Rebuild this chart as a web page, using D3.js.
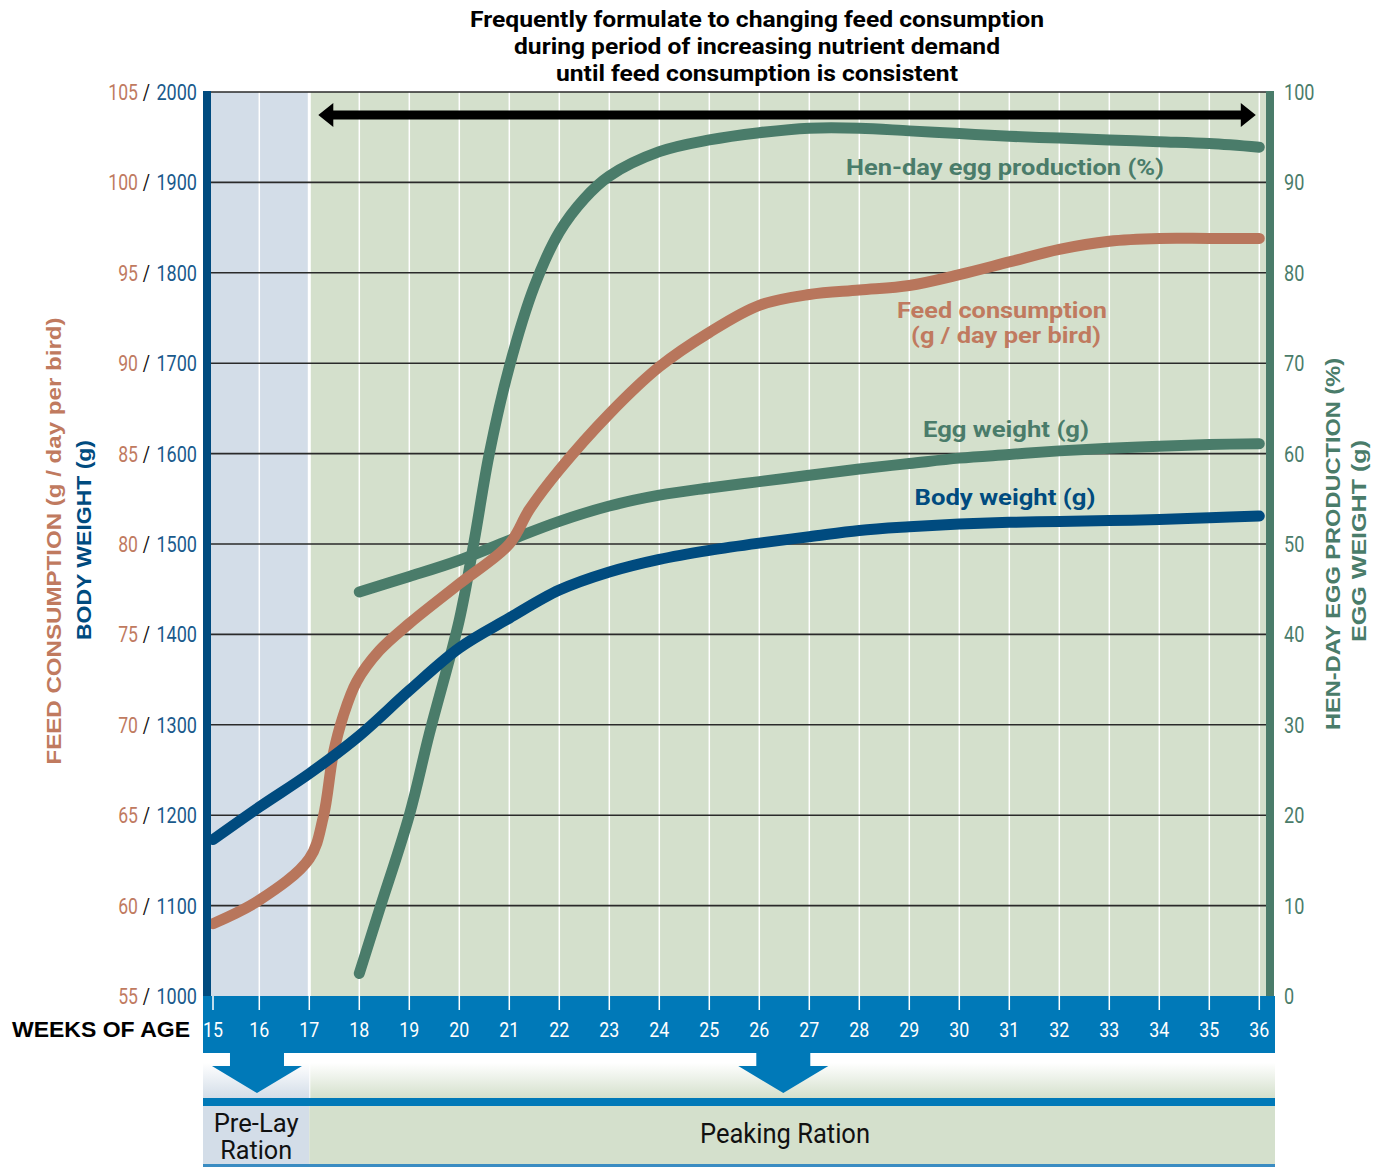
<!DOCTYPE html>
<html>
<head>
<meta charset="utf-8">
<script src="https://d3js.org/d3.v7.min.js"></script>
<style>
  body { margin: 0; background: #fff; }
  svg { display: block; font-family: Roboto, "Liberation Sans", sans-serif; }
</style>
</head>
<body>
<script>
  // data
  var weeks = d3.range(15, 37);

  var feedWeeks  = [15, 16, 17, 17.28, 17.48, 17.68, 17.95, 18.4, 19, 20, 21, 21.4, 22, 23, 24, 25, 26, 27, 28, 29, 30, 31, 32, 33, 34, 35, 36];
  var feedValues = [59.0, 60.3, 62.6, 64.9, 68.4, 70.5, 72.4, 74.1, 75.6, 77.8, 80.0, 81.9, 84.1, 87.2, 89.8, 91.7, 93.2, 93.8, 94.05, 94.3, 94.9, 95.6, 96.3, 96.75, 96.9, 96.9, 96.9];

  var bodyWeeks  = [15, 16, 17, 18, 19, 20, 21, 22, 23, 24, 25, 26, 27, 28, 29, 30, 31, 32, 33, 34, 35, 36];
  var bodyValues = [1173, 1209, 1246, 1288, 1338, 1385, 1418, 1449, 1469, 1483, 1493, 1501, 1508, 1515, 1519, 1522, 1524, 1525, 1526, 1527, 1529, 1531];

  var eggProdWeeks  = [18, 18.4, 19, 19.4, 20, 20.3, 20.6, 21, 21.5, 22, 22.5, 23, 24, 25, 26, 27, 28, 29, 30, 31, 32, 33, 34, 35, 36];
  var eggProdValues = [2.5, 9.5, 20, 29, 41.6, 50.4, 60, 69.6, 78.5, 84.5, 88.2, 90.7, 93.4, 94.7, 95.5, 96.0, 96.0, 95.7, 95.4, 95.1, 94.9, 94.7, 94.5, 94.3, 93.9];

  var eggWtWeeks  = [18, 19, 20, 21, 22, 23, 24, 25, 26, 27, 28, 29, 30, 31, 32, 33, 34, 35, 36];
  var eggWtValues = [44.7, 46.4, 48.2, 50.4, 52.5, 54.2, 55.4, 56.2, 56.9, 57.6, 58.3, 58.9, 59.5, 59.9, 60.3, 60.6, 60.8, 61.0, 61.1];

  var feedTicks = [55, 60, 65, 70, 75, 80, 85, 90, 95, 100, 105];
  var bodyTicks = [1000, 1100, 1200, 1300, 1400, 1500, 1600, 1700, 1800, 1900, 2000];
  var rightTicks = [0, 10, 20, 30, 40, 50, 60, 70, 80, 90, 100];

  var titleLines = ['Frequently formulate to changing feed consumption',
                    'during period of increasing nutrient demand',
                    'until feed consumption is consistent'];

  // colours
  var brown = '#b8765c', brownText = '#c07a5f', navy = '#004b7f', green = '#4a7c6a';
  var band = '#0079b8', bgGreen = '#d4e0cc', bgBlue = '#d3dde8';

  var width = 1386, height = 1167;
  var plotTop = 92, plotBottom = 996, plotLeft = 211, plotRight = 1266;

  var svg = d3.select('body').append('svg')
    .attr('width', width).attr('height', height);

  // scales (week 15 is squeezed against the axis)
  var x = d3.scaleLinear().domain([15, 16, 36]).range([213, 259.3, 1259.3]);
  var yBody = d3.scaleLinear().domain([1000, 2000]).range([plotBottom, plotTop]);
  var yFeed = d3.scaleLinear().domain([55, 105]).range([plotBottom, plotTop]);
  var yRight = d3.scaleLinear().domain([0, 100]).range([plotBottom, plotTop]);

  function fit(sel, w) {
    sel.attr('textLength', w).attr('lengthAdjust', 'spacingAndGlyphs');
  }
  function condense(sel, k) {
    sel.each(function() {
      var w = this.getComputedTextLength();
      d3.select(this).attr('textLength', w * k).attr('lengthAdjust', 'spacingAndGlyphs');
    });
  }

  var defs = svg.append('defs');
  function grad(id, c) {
    var g = defs.append('linearGradient').attr('id', id)
      .attr('x1', 0).attr('y1', 0).attr('x2', 0).attr('y2', 1);
    g.append('stop').attr('offset', '0%').attr('stop-color', '#fff');
    g.append('stop').attr('offset', '22%').attr('stop-color', '#fff');
    g.append('stop').attr('offset', '100%').attr('stop-color', c);
  }
  grad('gBlue', bgBlue);
  grad('gGreen', bgGreen);

  // backgrounds
  svg.append('rect').attr('x', plotLeft).attr('y', plotTop)
    .attr('width', x(17) - plotLeft).attr('height', plotBottom - plotTop).attr('fill', bgBlue);
  svg.append('rect').attr('x', x(17)).attr('y', plotTop)
    .attr('width', plotRight - x(17)).attr('height', plotBottom - plotTop).attr('fill', bgGreen);

  // vertical white grid
  svg.append('g').selectAll('line').data(weeks.filter(function(w) { return w > 15; }))
    .enter().append('line')
    .attr('x1', function(d) { return x(d); }).attr('x2', function(d) { return x(d); })
    .attr('y1', plotTop).attr('y2', plotBottom)
    .attr('stroke', '#fff')
    .attr('stroke-width', function(d) { return d === 17 ? 3 : 1.5; });

  // horizontal grid
  svg.append('g').selectAll('line').data(bodyTicks.slice(1))
    .enter().append('line')
    .attr('x1', plotLeft).attr('x2', plotRight)
    .attr('y1', function(d) { return yBody(d); }).attr('y2', function(d) { return yBody(d); })
    .attr('stroke', '#2a2a2a').attr('stroke-width', 1.6);

  // right axis bar
  svg.append('rect').attr('x', plotRight).attr('y', plotTop - 1).attr('width', 8)
    .attr('height', plotBottom - plotTop + 1).attr('fill', green);

  // double arrow across the top
  var ay = 115, aL = x(17.18), aR = x(35.93), hw = 15, hh = 12, sh = 4.5;
  svg.append('path')
    .attr('d', 'M' + aL + ',' + ay +
      'L' + (aL + hw) + ',' + (ay - hh) + 'L' + (aL + hw) + ',' + (ay - sh) +
      'L' + (aR - hw) + ',' + (ay - sh) + 'L' + (aR - hw) + ',' + (ay - hh) +
      'L' + aR + ',' + ay +
      'L' + (aR - hw) + ',' + (ay + hh) + 'L' + (aR - hw) + ',' + (ay + sh) +
      'L' + (aL + hw) + ',' + (ay + sh) + 'L' + (aL + hw) + ',' + (ay + hh) + 'Z')
    .attr('fill', '#000');

  // series
  var line = d3.line().curve(d3.curveCatmullRom.alpha(0.5));
  function drawLine(ws, vs, y, color) {
    var pts = ws.map(function(w, i) { return [x(w), y(vs[i])]; });
    svg.append('path')
      .attr('d', line(pts))
      .attr('fill', 'none').attr('stroke', color)
      .attr('stroke-width', 11).attr('stroke-linecap', 'round').attr('stroke-linejoin', 'round');
  }
  drawLine(eggProdWeeks, eggProdValues, yRight, green);
  drawLine(eggWtWeeks, eggWtValues, yRight, green);
  drawLine(feedWeeks, feedValues, yFeed, brown);
  drawLine(bodyWeeks, bodyValues, yBody, navy);

  // left axis bar (covers line caps)
  svg.append('rect').attr('x', 203).attr('y', plotTop - 1).attr('width', 8)
    .attr('height', plotBottom - plotTop + 1).attr('fill', navy);

  // series labels
  var labels = [
    {t: 'Hen-day egg production (%)', x: 1005, y: 175, w: 318, c: green},
    {t: 'Feed consumption', x: 1002, y: 318, w: 210, c: brownText},
    {t: '(g / day per bird)', x: 1006, y: 343, w: 190, c: brownText},
    {t: 'Egg weight (g)', x: 1006, y: 437, w: 166, c: green},
    {t: 'Body weight (g)', x: 1005, y: 505, w: 181, c: navy}
  ];
  labels.forEach(function(l) {
    svg.append('text').attr('x', l.x).attr('y', l.y)
      .attr('text-anchor', 'middle').attr('font-size', 22).attr('font-weight', 700)
      .attr('fill', l.c).text(l.t).call(fit, l.w);
  });

  // left tick labels: feed / body weight in three columns
  var lg = svg.append('g').selectAll('g').data(feedTicks).enter().append('g')
    .attr('transform', function(d) { return 'translate(0,' + (yFeed(d) + 8) + ')'; })
    .attr('font-size', 22);
  lg.append('text').attr('x', 138).attr('text-anchor', 'end').attr('fill', brownText)
    .text(function(d) { return d; }).call(condense, 0.8);
  lg.append('text').attr('x', 146.5).attr('text-anchor', 'middle').attr('fill', '#111')
    .text('/').call(condense, 0.8);
  lg.append('text').attr('x', 197).attr('text-anchor', 'end').attr('fill', '#1a5a8c')
    .text(function(d, i) { return bodyTicks[i]; }).call(condense, 0.82);

  // right tick labels
  svg.append('g').selectAll('text').data(rightTicks).enter().append('text')
    .attr('x', 1284).attr('y', function(d) { return yRight(d) + 8; })
    .attr('font-size', 22).attr('fill', green)
    .text(function(d) { return d; })
    .call(condense, 0.82);

  // axis titles
  function vtitle(t, cx, cy, w, c) {
    svg.append('text').attr('transform', 'translate(' + cx + ',' + cy + ') rotate(-90)')
      .attr('text-anchor', 'middle').attr('font-size', 21).attr('font-weight', 700)
      .attr('font-family', '"Liberation Sans", Arial, sans-serif')
      .attr('fill', c).text(t).call(fit, w);
  }
  vtitle('FEED CONSUMPTION (g / day per bird)', 61, 541, 447, brownText);
  vtitle('BODY WEIGHT (g)', 91, 540, 200, navy);
  vtitle('HEN-DAY EGG PRODUCTION (%)', 1340, 544, 372, green);
  vtitle('EGG WEIGHT (g)', 1366, 541, 202, green);

  // title
  titleLines.forEach(function(t, i) {
    svg.append('text').attr('x', 757).attr('y', 27 + i * 27)
      .attr('text-anchor', 'middle').attr('font-size', 22).attr('font-weight', 700)
      .attr('fill', '#000').text(t).call(fit, [574, 486, 402][i]);
  });

  // x axis band
  svg.append('rect').attr('x', 203).attr('y', plotBottom).attr('width', 1072).attr('height', 57).attr('fill', band);
  svg.append('g').selectAll('line').data(weeks).enter().append('line')
    .attr('x1', function(d) { return x(d); }).attr('x2', function(d) { return x(d); })
    .attr('y1', plotBottom).attr('y2', 1010)
    .attr('stroke', '#fff').attr('stroke-width', 1.5);
  svg.append('g').selectAll('text').data(weeks).enter().append('text')
    .attr('x', function(d) { return x(d); }).attr('y', 1037)
    .attr('text-anchor', 'middle').attr('font-size', 21).attr('fill', '#fff')
    .text(function(d) { return d; })
    .call(condense, 0.85);
  svg.append('text').attr('x', 12).attr('y', 1037)
    .attr('font-size', 22).attr('font-weight', 700).attr('fill', '#000')
    .attr('font-family', '"Liberation Sans", Arial, sans-serif')
    .text('WEEKS OF AGE').call(fit, 178);

  // ration strip
  svg.append('rect').attr('x', 203).attr('y', 1053).attr('width', x(17) - 203).attr('height', 45).attr('fill', 'url(#gBlue)');
  svg.append('rect').attr('x', x(17) + 1).attr('y', 1053).attr('width', 1275 - x(17) - 1).attr('height', 45).attr('fill', 'url(#gGreen)');
  svg.append('rect').attr('x', 203).attr('y', 1098).attr('width', 1072).attr('height', 8).attr('fill', band);
  svg.append('rect').attr('x', 203).attr('y', 1106).attr('width', x(17) - 203).attr('height', 58).attr('fill', bgBlue);
  svg.append('rect').attr('x', x(17)).attr('y', 1106).attr('width', 1275 - x(17)).attr('height', 58).attr('fill', bgGreen);
  svg.append('rect').attr('x', 203).attr('y', 1164).attr('width', 1072).attr('height', 3).attr('fill', '#3a8cc2');

  function downArrow(cx) {
    var sw = 27, hw2 = 45;
    svg.append('path')
      .attr('d', 'M' + (cx - sw) + ',1053L' + (cx + sw) + ',1053L' + (cx + sw) + ',1066L' +
        (cx + hw2) + ',1066L' + cx + ',1093L' + (cx - hw2) + ',1066L' + (cx - sw) + ',1066Z')
      .attr('fill', band);
  }
  downArrow(x(15.95));
  downArrow(x(26.48));

  var rx = (203 + x(17)) / 2;
  svg.append('text').attr('x', rx).attr('y', 1132).attr('text-anchor', 'middle')
    .attr('font-size', 25).attr('fill', '#111').text('Pre-Lay').call(fit, 85);
  svg.append('text').attr('x', rx).attr('y', 1159).attr('text-anchor', 'middle')
    .attr('font-size', 25).attr('fill', '#111').text('Ration').call(fit, 72);
  svg.append('text').attr('x', 785).attr('y', 1143).attr('text-anchor', 'middle')
    .attr('font-size', 27).attr('fill', '#111').text('Peaking Ration').call(fit, 170);
</script>
</body>
</html>
